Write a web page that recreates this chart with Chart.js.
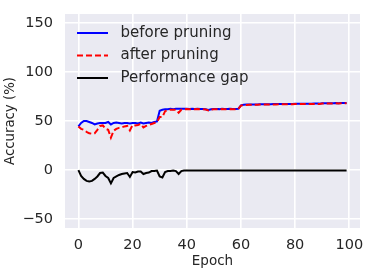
<!DOCTYPE html>
<html>
<head>
<meta charset="utf-8">
<script src="https://cdn.jsdelivr.net/npm/chart.js@4"></script>
<style>
  body { margin: 0; background: #ffffff; }
</style>
</head>
<body>
<canvas id="GraficoAcuracia" width="374" height="275"></canvas>
<script>
// valores (um valor por epoca, epoca = indice)
var antesPoda = [
    44.5, 48, 50, 50, 49, 48, 46.5, 47.5, 48, 48,
    48, 49, 46.5, 48, 48.5, 48, 47.5, 48, 48, 47.5,
    48, 48, 47.5, 48.5, 47.5, 48, 48.5, 48, 49, 49.5,
    60.5, 61.5, 62, 62, 62.5, 62, 62.5, 62.5, 62.5, 62.5,
    62.5, 62.3, 62.4, 62.2, 62.5, 62.3, 62.2, 62, 61.2, 62,
    62.2, 62.3, 62.1, 62.4, 62.3, 62.2, 62.4, 62.3, 62.2, 62.4,
    66, 66.5, 66.7, 66.8, 66.8, 66.9, 66.9, 67, 67, 67,
    67.1, 67.1, 67.2, 67.2, 67.3, 67.3, 67.3, 67.4, 67.4, 67.4,
    67.5, 67.5, 67.5, 67.6, 67.6, 67.6, 67.6, 67.7, 67.7, 67.7,
    68.1, 68.2, 68.1, 68.2, 68.2, 68.3, 68.2, 68.3, 68.3, 68.3
];
var depoisPoda = [
    44.5, 42, 41, 39, 37.5, 37, 37.5, 41, 45, 45.5,
    42, 41, 33, 40, 42, 43, 43.5, 44.5, 45, 40.5,
    46, 45.5, 46, 47, 43.5, 45, 46, 47, 48, 49,
    54, 54, 60, 61, 61.5, 61.5, 61.5, 58.5, 61.5, 62,
    62.2, 62, 62.1, 61.9, 62.2, 62, 61.9, 61.7, 60.8, 61.7,
    61.9, 62, 61.8, 62.1, 62, 61.9, 62.1, 62, 61.9, 62.1,
    65.7, 66.2, 66.4, 66.5, 66.5, 66.6, 66.6, 66.7, 66.7, 66.7,
    66.8, 66.8, 66.9, 66.9, 67, 67, 67, 67.1, 67.1, 67.1,
    67.2, 67.2, 67.2, 67.3, 67.3, 67.3, 67.3, 67.4, 67.4, 67.4,
    67.8, 67.9, 67.8, 67.9, 67.9, 68, 67.9, 68, 68, 68
];
var diferenca = [
    0, -6, -9, -11, -11.5, -11, -9, -6.5, -3, -2.5,
    -6, -8, -13.5, -8, -6.5, -5, -4, -3.5, -3, -7,
    -2, -2.5, -1.5, -1.5, -4, -3, -2.5, -1, -1, -0.5,
    -6.5, -7.5, -2, -1, -1, -0.5, -1, -4, -1, -0.5,
    -0.3, -0.3, -0.3, -0.3, -0.3, -0.3, -0.3, -0.3, -0.4, -0.3,
    -0.3, -0.3, -0.3, -0.3, -0.3, -0.3, -0.3, -0.3, -0.3, -0.3,
    -0.3, -0.3, -0.3, -0.3, -0.3, -0.3, -0.3, -0.3, -0.3, -0.3,
    -0.3, -0.3, -0.3, -0.3, -0.3, -0.3, -0.3, -0.3, -0.3, -0.3,
    -0.3, -0.3, -0.3, -0.3, -0.3, -0.3, -0.3, -0.3, -0.3, -0.3,
    -0.3, -0.3, -0.3, -0.3, -0.3, -0.3, -0.3, -0.3, -0.3, -0.3
];
var nomesSeries = ['before pruning', 'after pruning', 'Performance gap'];
var ticksX = [0, 20, 40, 60, 80, 100];
var ticksY = [-50, 0, 50, 100, 150];

var fonte = '"DejaVu Sans", sans-serif';
var corTexto = '#262626';

function pontos(valores) {
    return valores.map(function (v, i) { return { x: i, y: v }; });
}

// fundo cinza da area do grafico
var fundo = {
    id: 'fundo',
    beforeDraw: function (chart) {
        var a = chart.chartArea;
        var c = chart.ctx;
        c.save();
        c.fillStyle = '#EAEAF2';
        c.fillRect(a.left, a.top, a.right - a.left, a.bottom - a.top);
        c.restore();
    }
};

// legenda dentro da area, sem caixa
var legenda = {
    id: 'legenda',
    afterDatasetsDraw: function (chart) {
        var a = chart.chartArea;
        var c = chart.ctx;
        c.save();
        for (var i = 0; i < nomesSeries.length; i++) {
            var ds = chart.data.datasets[i];
            var y = a.top + 19 + i * 22.5;
            var x = a.left + 12;
            c.strokeStyle = ds.borderColor;
            c.lineWidth = ds.borderWidth;
            c.setLineDash(ds.borderDash || []);
            c.beginPath();
            c.moveTo(x, y);
            c.lineTo(x + 31, y);
            c.stroke();
            c.setLineDash([]);
            c.fillStyle = corTexto;
            c.font = '15px ' + fonte;
            c.textBaseline = 'middle';
            c.textAlign = 'left';
            c.fillText(ds.label, x + 43.5, y);
        }
        c.restore();
    }
};

var ctx = document.getElementById('GraficoAcuracia').getContext('2d');

var grafico = new Chart(ctx, {
    type: 'line',
    data: {
        datasets: [
            {
                label: nomesSeries[0],
                data: pontos(antesPoda),
                borderColor: '#0000ff',
                borderWidth: 2,
                order: 2
            },
            {
                label: nomesSeries[1],
                data: pontos(depoisPoda),
                borderColor: '#ff0000',
                borderWidth: 2,
                borderDash: [6, 3],
                order: 1
            },
            {
                label: nomesSeries[2],
                data: pontos(diferenca),
                borderColor: '#000000',
                borderWidth: 2,
                order: 0
            }
        ]
    },
    options: {
        responsive: false,
        animation: false,
        layout: { padding: { left: 0, right: 14, top: 14, bottom: 0 } },
        elements: {
            point: { radius: 0 },
            line: { tension: 0, borderCapStyle: 'butt' }
        },
        plugins: {
            legend: { display: false },
            tooltip: { enabled: false }
        },
        scales: {
            x: {
                type: 'linear',
                min: -4.95,
                max: 103.95,
                afterBuildTicks: function (s) { s.ticks = ticksX.map(function (v) { return { value: v }; }); },
                afterFit: function (s) { s.height = 47; s.paddingLeft = 0; s.paddingRight = 0; },
                grid: { color: '#ffffff', lineWidth: 1.6, drawTicks: false },
                border: { display: false },
                ticks: {
                    padding: 9,
                    color: corTexto,
                    font: { family: fonte, size: 14.5 },
                    maxRotation: 0
                },
                title: {
                    display: true,
                    text: 'Epoch',
                    color: corTexto,
                    font: { family: fonte, size: 13.5 },
                    padding: { top: 0, bottom: 5 }
                }
            },
            y: {
                min: -59,
                max: 159,
                afterBuildTicks: function (s) { s.ticks = ticksY.map(function (v) { return { value: v }; }); },
                afterFit: function (s) { s.width = 65; s.paddingTop = 0; s.paddingBottom = 0; },
                grid: { color: '#ffffff', lineWidth: 1.6, drawTicks: false },
                border: { display: false },
                ticks: {
                    padding: 12,
                    color: corTexto,
                    font: { family: fonte, size: 14.5 },
                    callback: function (v) { return String(v).replace('-', '\u2212'); }
                },
                title: {
                    display: true,
                    text: 'Accuracy (%)',
                    color: corTexto,
                    font: { family: fonte, size: 13.3 },
                    padding: { top: 3, bottom: 0 }
                }
            }
        }
    },
    plugins: [fundo, legenda]
});
</script>
</body>
</html>
